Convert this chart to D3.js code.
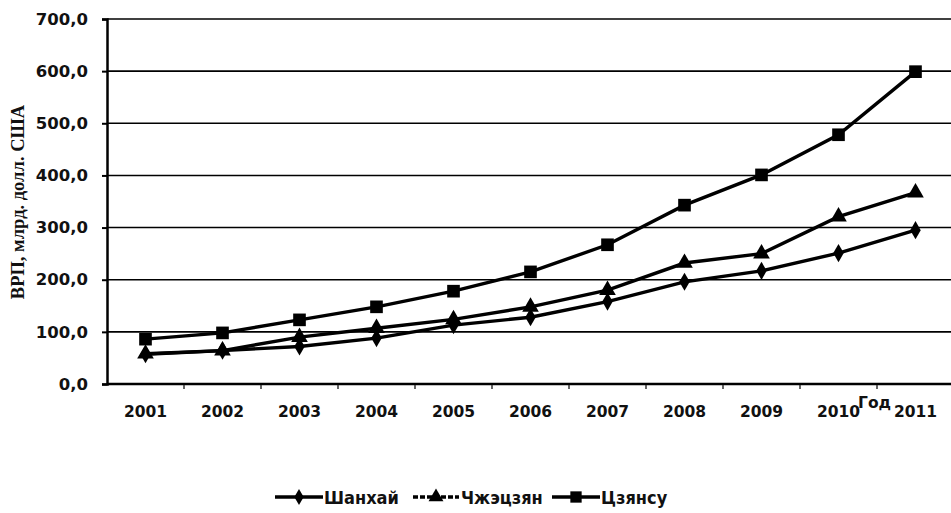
<!DOCTYPE html>
<html>
<head>
<meta charset="utf-8">
<script src="https://cdn.jsdelivr.net/npm/d3@7"></script>
<style>
  body { margin: 0; background: #fff; }
  svg { display: block; }
</style>
</head>
<body>
<svg class="chart" width="951" height="513"></svg>
<script>
var years = ["2001","2002","2003","2004","2005","2006","2007","2008","2009","2010","2011"];
var shanghai = [57, 64, 72, 88, 113, 128, 158, 196, 217, 251, 295];
var zhejiang = [58, 64, 90, 107, 124, 148, 180, 232, 250, 321, 367];
var jiangsu  = [86, 98, 123, 148, 178, 215, 267, 343, 401, 478, 599];
var yTicks = [0, 100, 200, 300, 400, 500, 600, 700];

var width = 951,
    height = 513;

var svg = d3.select(".chart");

var x = d3.scaleBand()
    .domain(years)
    .range([107, 954]);

var y = d3.scaleLinear()
    .domain([0, 700])
    .range([384, 19]);

var fmt = function(d) { return d3.format(".1f")(d).replace(".", ","); };

// grid lines
svg.append("g")
  .selectAll("line")
  .data(yTicks.slice(1))
  .enter().append("line")
    .attr("x1", 107).attr("x2", width)
    .attr("y1", function(d) { return y(d); })
    .attr("y2", function(d) { return y(d); })
    .attr("stroke", "#000")
    .attr("stroke-width", 1.6);

// y axis
var yAxis = svg.append("g")
    .attr("transform", "translate(107,0)")
    .call(d3.axisLeft(y).tickValues(yTicks).tickFormat(fmt).tickSize(5).tickPadding(14));
yAxis.select(".domain").attr("stroke-width", 2.5);
yAxis.selectAll(".tick line").attr("stroke-width", 2);
yAxis.selectAll("text")
    .attr("font-family", "DejaVu Sans")
    .attr("font-weight", "bold")
    .attr("font-size", 16.5)
    .attr("fill", "#111");

// x axis
var xAxis = svg.append("g")
    .attr("transform", "translate(0,384)")
    .call(d3.axisBottom(x).tickSize(0).tickPadding(22));
xAxis.select(".domain").attr("stroke-width", 2.5).attr("d", "M107,0H" + width);
xAxis.selectAll("text")
    .attr("font-family", "DejaVu Sans")
    .attr("font-weight", "bold")
    .attr("font-size", 15.5)
    .attr("fill", "#111");

// small separators between categories
svg.append("g")
  .selectAll("line")
  .data(years.slice(1))
  .enter().append("line")
    .attr("x1", function(d) { return x(d); })
    .attr("x2", function(d) { return x(d); })
    .attr("y1", 385).attr("y2", 389)
    .attr("stroke", "#333")
    .attr("stroke-width", 1.5);

// axis titles
svg.append("text")
    .attr("transform", "translate(24,202) rotate(-90)")
    .attr("text-anchor", "middle")
    .attr("font-family", "Liberation Serif")
    .attr("font-weight", "bold")
    .attr("font-size", 18.5)
    .attr("fill", "#111")
    .text("ВРП, млрд. долл. США");

svg.append("text")
    .attr("x", 858).attr("y", 408)
    .attr("font-family", "DejaVu Sans")
    .attr("font-weight", "bold")
    .attr("font-size", 15.5)
    .attr("fill", "#111")
    .text("Год");

var cx = function(d, i) { return x(years[i]) + x.bandwidth() / 2; };

var line = d3.line()
    .x(function(d, i) { return cx(d, i); })
    .y(function(d) { return y(d); });

var series = [
  {name: "Шанхай", values: shanghai, symbol: d3.symbolDiamond, size: 95},
  {name: "Чжэцзян", values: zhejiang, symbol: d3.symbolTriangle, size: 120},
  {name: "Цзянсу", values: jiangsu, symbol: d3.symbolSquare, size: 160}
];

series.forEach(function(s) {
  svg.append("path")
      .datum(s.values)
      .attr("fill", "none")
      .attr("stroke", "#000")
      .attr("stroke-width", 3.4)
      .attr("d", line);

  svg.append("g")
    .selectAll("path")
    .data(s.values)
    .enter().append("path")
      .attr("transform", function(d, i) { return "translate(" + cx(d, i) + "," + y(d) + ")"; })
      .attr("d", d3.symbol().type(s.symbol).size(s.size))
      .attr("fill", "#000");
});

// legend
var legendX = [275, 413, 552];
var legend = svg.append("g");
series.forEach(function(s, i) {
  var g = legend.append("g").attr("transform", "translate(" + legendX[i] + ",497)");
  g.append("line")
      .attr("x1", 0).attr("x2", i == 1 ? 46 : 48)
      .attr("y1", 0).attr("y2", 0)
      .attr("stroke", "#000")
      .attr("stroke-width", 3.5)
      .attr("stroke-dasharray", i == 1 ? "5,2" : null);
  g.append("path")
      .attr("transform", "translate(" + (i == 1 ? 23 : 24) + ",0)")
      .attr("d", d3.symbol().type(s.symbol).size(s.size * 0.8))
      .attr("fill", "#000");
  g.append("text")
      .attr("x", i == 1 ? 48 : 49).attr("y", 6.5)
      .attr("font-family", "DejaVu Sans Condensed")
      .attr("font-weight", "bold")
      .attr("font-size", 18)
      .attr("fill", "#111")
      .text(s.name);
});
</script>
</body>
</html>
